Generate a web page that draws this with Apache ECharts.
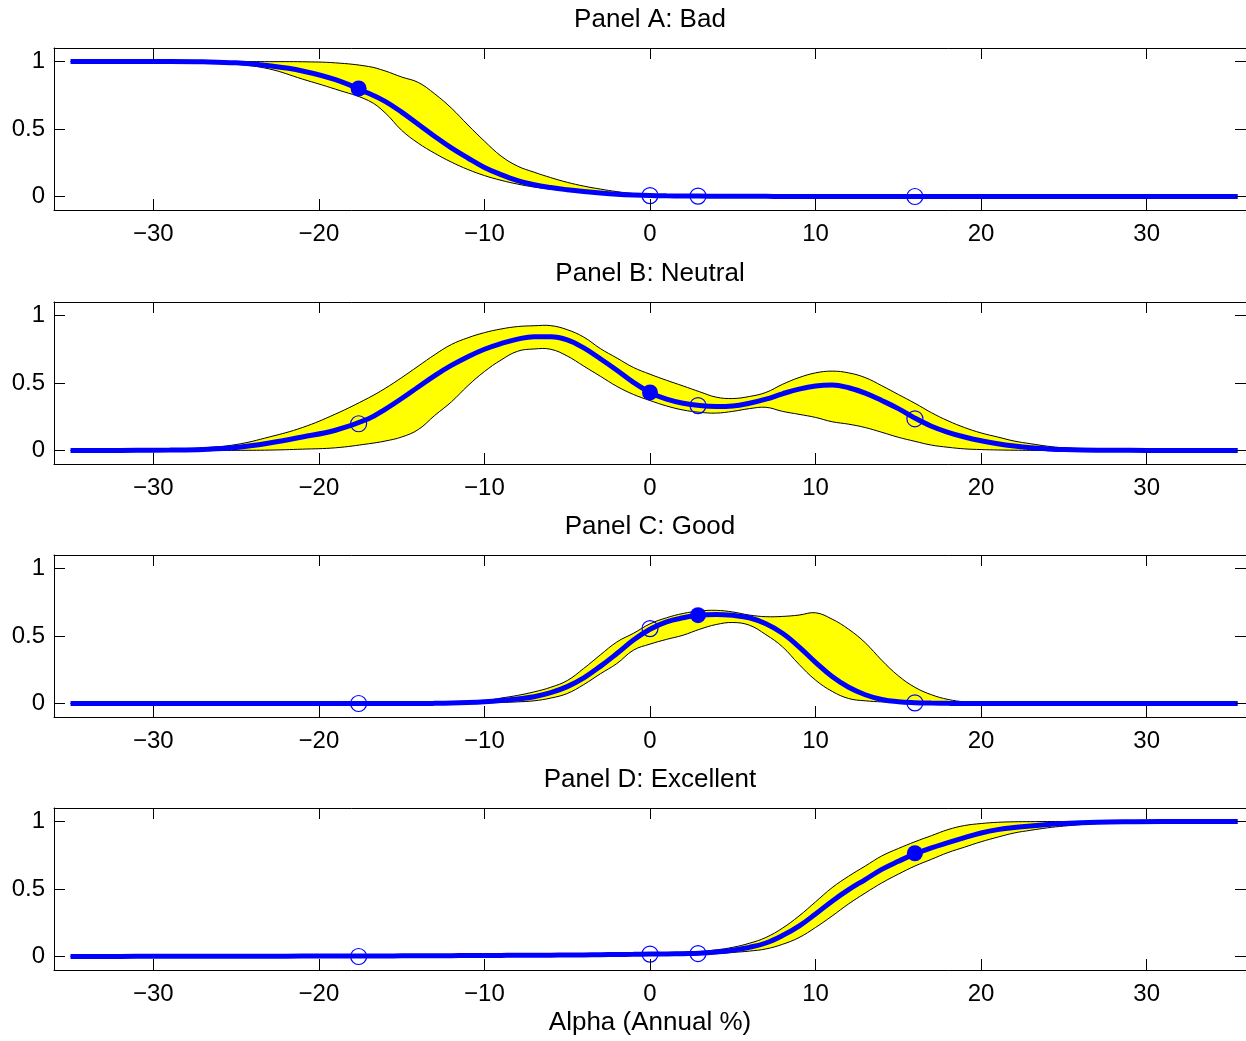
<!DOCTYPE html>
<html>
<head>
<meta charset="utf-8">
<script src="https://cdn.jsdelivr.net/npm/echarts@6/dist/echarts.min.js"></script>
<style>
html,body{margin:0;padding:0;background:#fff;}
#chart{width:1246px;height:1041px;}
</style>
</head>
<body>
<div id="chart"></div>
<script>
// ---------- data ----------
const xs = [-35,-33,-31,-29,-27,-25,-23,-21,-19,-17,-16,-15,-14,-13,-12,-11,-10,-9,-8,-7,-6,-5,-4,-3,-2,-1,0,1,2,3,4,5,6,7,8,9,10,11,12,13,14,15,16,17,18,19,20,21,22,23,24,25,27,29,31,33,35.5];

// Panel A: Bad
const aMean = [1,1,1,1,0.998,0.99,0.968,0.93,0.865,0.765,0.705,0.625,0.535,0.445,0.36,0.285,0.215,0.162,0.118,0.087,0.066,0.05,0.037,0.026,0.017,0.011,0.007,0.005,0.004,0.003,0.002,0.0015,0.001,0.001,0.0005,0,0,0,0,0,0,0,0,0,0,0,0,0,0,0,0,0,0,0,0,0,0];
const aUp   = [1,1,1,1,1,1,0.999,0.998,0.99,0.963,0.93,0.885,0.845,0.76,0.655,0.53,0.41,0.30,0.225,0.18,0.14,0.105,0.077,0.055,0.036,0.022,0.013,0.008,0.005,0.003,0.002,0.001,0.001,0.0005,0,0,0,0,0,0,0,0,0,0,0,0,0,0,0,0,0,0,0,0,0,0,0];
const aLo   = [1,1,1,0.999,0.995,0.98,0.945,0.87,0.795,0.71,0.62,0.49,0.395,0.32,0.255,0.2,0.155,0.12,0.092,0.07,0.055,0.041,0.03,0.021,0.014,0.009,0.006,0.004,0.003,0.002,0.0015,0.001,0.001,0.0005,0,0,0,0,0,0,0,0,0,0,0,0,0,0,0,0,0,0,0,0,0,0,0];

// Panel B: Neutral
const bMean = [0,0,0.001,0.003,0.008,0.022,0.055,0.1,0.15,0.235,0.305,0.385,0.47,0.555,0.63,0.695,0.75,0.792,0.825,0.843,0.843,0.82,0.76,0.68,0.595,0.505,0.43,0.38,0.35,0.333,0.326,0.33,0.35,0.38,0.42,0.455,0.478,0.485,0.465,0.425,0.37,0.31,0.24,0.18,0.135,0.1,0.072,0.05,0.033,0.02,0.012,0.007,0.002,0.001,0,0,0];
const bUp   = [0,0.001,0.003,0.008,0.02,0.044,0.1,0.17,0.27,0.39,0.46,0.54,0.625,0.71,0.785,0.835,0.873,0.9,0.918,0.924,0.925,0.895,0.84,0.755,0.685,0.615,0.565,0.52,0.478,0.435,0.395,0.385,0.40,0.43,0.49,0.54,0.575,0.588,0.575,0.54,0.48,0.415,0.35,0.28,0.22,0.17,0.13,0.1,0.07,0.05,0.032,0.02,0.007,0.002,0.0005,0,0];
const bLo   = [0,0,0,0,0,0.001,0.003,0.01,0.02,0.05,0.07,0.1,0.155,0.26,0.36,0.48,0.585,0.67,0.735,0.752,0.75,0.70,0.625,0.55,0.475,0.415,0.37,0.33,0.30,0.283,0.277,0.29,0.31,0.32,0.29,0.268,0.245,0.213,0.195,0.17,0.135,0.098,0.068,0.04,0.024,0.012,0.007,0.004,0.002,0.001,0,0,0,0,0,0,0];

// Panel C: Good
const cMean = [0,0,0,0,0,0,0,0,0,0,0,0,0,0.001,0.003,0.007,0.013,0.022,0.034,0.05,0.08,0.125,0.19,0.275,0.37,0.47,0.55,0.605,0.635,0.655,0.66,0.653,0.635,0.59,0.52,0.42,0.305,0.2,0.12,0.065,0.03,0.013,0.006,0.003,0.001,0,0,0,0,0,0,0,0,0,0,0,0];
const cUp   = [0,0,0,0,0,0,0,0,0,0,0,0,0,0.002,0.005,0.01,0.02,0.04,0.06,0.086,0.12,0.17,0.26,0.36,0.456,0.52,0.59,0.635,0.667,0.685,0.69,0.678,0.655,0.643,0.645,0.655,0.672,0.625,0.55,0.45,0.32,0.205,0.12,0.065,0.03,0.012,0.004,0.001,0,0,0,0,0,0,0,0,0];
const cLo   = [0,0,0,0,0,0,0,0,0,0,0,0,0,0,0.001,0.003,0.005,0.008,0.012,0.02,0.04,0.074,0.14,0.22,0.296,0.395,0.44,0.475,0.506,0.55,0.585,0.60,0.58,0.51,0.42,0.29,0.173,0.09,0.037,0.02,0.012,0.007,0.004,0.002,0.001,0,0,0,0,0,0,0,0,0,0,0,0];

// Panel D: Excellent
const dMean = [0,0.0005,0.001,0.001,0.0015,0.002,0.002,0.003,0.003,0.004,0.004,0.005,0.005,0.006,0.006,0.007,0.007,0.008,0.009,0.009,0.01,0.011,0.012,0.013,0.015,0.016,0.018,0.019,0.021,0.024,0.033,0.047,0.068,0.1,0.155,0.225,0.315,0.41,0.495,0.57,0.645,0.705,0.76,0.805,0.843,0.88,0.915,0.94,0.955,0.967,0.977,0.985,0.994,0.998,1,1,1];
const dUp   = [0.0005,0.001,0.001,0.002,0.002,0.003,0.004,0.005,0.006,0.007,0.008,0.008,0.009,0.01,0.01,0.011,0.012,0.013,0.014,0.015,0.017,0.018,0.019,0.021,0.023,0.025,0.027,0.029,0.032,0.037,0.049,0.068,0.098,0.141,0.21,0.30,0.405,0.51,0.595,0.67,0.745,0.80,0.85,0.895,0.94,0.97,0.985,0.994,0.998,0.999,1,1,1,1,1,1,1];
const dLo   = [0,0,0,0.0005,0.001,0.001,0.001,0.001,0.002,0.002,0.002,0.002,0.003,0.003,0.003,0.004,0.004,0.004,0.005,0.005,0.006,0.007,0.008,0.009,0.01,0.011,0.012,0.013,0.014,0.016,0.021,0.03,0.04,0.056,0.09,0.14,0.215,0.30,0.39,0.47,0.545,0.61,0.67,0.72,0.77,0.81,0.85,0.884,0.915,0.935,0.953,0.966,0.985,0.994,0.998,1,1];

// markers (shared x positions), y on each panel's mean curve
const markerX = [-17.6, 0, 2.9, 16.0];
const aMarkY = [0.80, 0.007, 0.003, 0.0];
const bMarkY = [0.198, 0.43, 0.333, 0.235];
const cMarkY = [0.0, 0.555, 0.654, 0.005];
const dMarkY = [0.0, 0.018, 0.022, 0.765];
const filledMarker = [0, 1, 2, 3]; // index of the filled marker in each panel

const panelTitles = ['Panel A: Bad', 'Panel B: Neutral', 'Panel C: Good', 'Panel D: Excellent'];
const xAxisTitle = 'Alpha (Annual %)';
const xTicks = [-30, -20, -10, 0, 10, 20, 30];
const yTicks = [0, 0.5, 1];

// ---------- build ----------
const panels = [
  {mean: aMean, up: aUp, lo: aLo, mk: aMarkY},
  {mean: bMean, up: bUp, lo: bLo, mk: bMarkY},
  {mean: cMean, up: cUp, lo: cLo, mk: cMarkY},
  {mean: dMean, up: dUp, lo: dLo, mk: dMarkY}
];
const tops = [48, 302, 555, 808];
const FONT = 'Arial, "Liberation Sans", Helvetica, sans-serif';
const fmt = v => (v < 0 ? '\u2212' + Math.abs(v) : String(v));
const SMOOTH = 0.4;

const grid = [], xAxis = [], yAxis = [], series = [], title = [];
panels.forEach((p, i) => {
  grid.push({left: 54, width: 1193, top: tops[i], height: 162});
  title.push({
    text: panelTitles[i], left: 650, top: tops[i] - 41, textAlign: 'center', padding: 0,
    textStyle: {fontSize: 26, fontWeight: 'normal', color: '#000', fontFamily: FONT}
  });
  const axLine = {show: true, onZero: false, lineStyle: {color: '#000', width: 1}};
  const tick = {show: true, inside: true, length: 11, lineStyle: {color: '#000', width: 1}};
  xAxis.push({
    type: 'value', gridIndex: i, position: 'bottom', min: -36, max: 36, z: 10,
    axisLine: axLine,
    axisTick: Object.assign({customValues: xTicks}, tick),
    axisLabel: {customValues: xTicks, formatter: fmt, fontSize: 24, color: '#000', fontFamily: FONT, margin: 12},
    splitLine: {show: false},
    name: i === 3 ? xAxisTitle : '', nameLocation: 'middle', nameGap: 40,
    nameTextStyle: {fontSize: 26, color: '#000', fontFamily: FONT}
  });
  xAxis.push({
    type: 'value', gridIndex: i, position: 'top', min: -36, max: 36, z: 10,
    axisLine: axLine, axisTick: Object.assign({customValues: xTicks}, tick),
    axisLabel: {show: false}, splitLine: {show: false}
  });
  yAxis.push({
    type: 'value', gridIndex: i, position: 'left', min: -0.1, max: 1.1, z: 10,
    axisLine: axLine,
    axisTick: Object.assign({customValues: yTicks}, tick),
    axisLabel: {customValues: yTicks, formatter: fmt, fontSize: 24, color: '#000', fontFamily: FONT, margin: 9},
    splitLine: {show: false}
  });
  yAxis.push({
    type: 'value', gridIndex: i, position: 'right', min: -0.1, max: 1.1, z: 10,
    axisLine: axLine, axisTick: Object.assign({customValues: yTicks}, tick),
    axisLabel: {show: false}, splitLine: {show: false}
  });
  const xi = i * 2, yi = i * 2;
  // confidence band: yellow polygon between lower and upper bounds, black outlines
  series.push({
    type: 'custom', xAxisIndex: xi, yAxisIndex: yi, z: 2, silent: true,
    data: xs.map((x, k) => [x, p.lo[k], p.up[k]]),
    encode: {x: 0, y: [1, 2]},
    renderItem: (params, api) => {
      if (params.dataIndex !== 0) return null;
      const upPts = xs.map((x, k) => api.coord([x, p.up[k]]));
      const loPts = xs.map((x, k) => api.coord([x, p.lo[k]]));
      return {
        type: 'group',
        children: [
          {type: 'polygon', shape: {points: upPts.concat(loPts.slice().reverse()), smooth: SMOOTH},
           style: {fill: '#ffff00', stroke: null}},
          {type: 'polyline', shape: {points: upPts, smooth: SMOOTH},
           style: {stroke: '#000', lineWidth: 1, fill: null}},
          {type: 'polyline', shape: {points: loPts, smooth: SMOOTH},
           style: {stroke: '#000', lineWidth: 1, fill: null}}
        ]
      };
    }
  });
  // estimate line
  series.push({
    type: 'line', xAxisIndex: xi, yAxisIndex: yi,
    data: xs.map((x, k) => [x, p.mean[k]]),
    showSymbol: false, symbol: 'none', smooth: SMOOTH, z: 4,
    lineStyle: {color: '#0000ff', width: 5, cap: 'butt'}
  });
  // markers
  series.push({
    type: 'scatter', xAxisIndex: xi, yAxisIndex: yi, z: 5,
    data: markerX.map((x, k) => {
      const filled = k === filledMarker[i];
      return {
        value: [x, p.mk[k]],
        symbol: 'circle',
        symbolSize: 16,
        itemStyle: filled
          ? {color: '#0000ff', borderWidth: 0, opacity: 1}
          : {color: 'rgba(0,0,0,0)', borderColor: '#0000ff', borderWidth: 1.2, opacity: 1}
      };
    })
  });
});

const chart = echarts.init(document.getElementById('chart'), null, {renderer: 'canvas'});
chart.setOption({
  animation: false,
  backgroundColor: '#fff',
  title: title,
  grid: grid,
  xAxis: xAxis,
  yAxis: yAxis,
  series: series
});
</script>
</body>
</html>
